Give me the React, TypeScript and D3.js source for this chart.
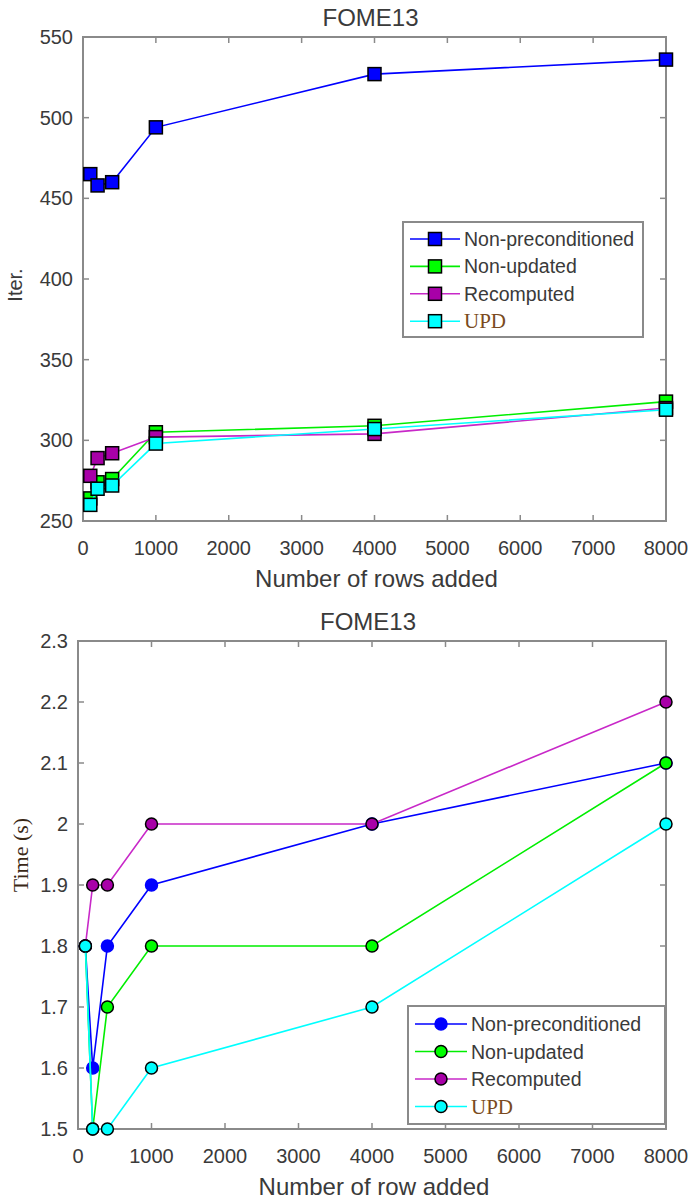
import React from "react";
import * as d3 from "d3";

// Shared x positions (number of rows added)
const rowsAdded = [100, 200, 400, 1000, 4000, 8000];

// Iteration counts
const iterNonPrecond = [465, 458, 460, 494, 527, 536];
const iterNonUpdated = [264, 274, 276, 305, 309, 324];
const iterRecomputed = [278, 289, 292, 302, 304, 320];
const iterUPD = [260, 270, 272, 298, 307, 319];

// Running times (s)
const timeNonPrecond = [1.8, 1.6, 1.8, 1.9, 2.0, 2.1];
const timeNonUpdated = [1.8, 1.5, 1.7, 1.8, 1.8, 2.1];
const timeRecomputed = [1.8, 1.9, 1.9, 2.0, 2.0, 2.2];
const timeUPD = [1.8, 1.5, 1.5, 1.6, 1.7, 2.0];

const seriesNames = ["Non-preconditioned", "Non-updated", "Recomputed", "UPD"];
const xTicks = [0, 1000, 2000, 3000, 4000, 5000, 6000, 7000, 8000];
const iterTicks = [250, 300, 350, 400, 450, 500, 550];
const timeTicks = [1.5, 1.6, 1.7, 1.8, 1.9, 2.0, 2.1, 2.2, 2.3];

const lineColors = ["#0000ff", "#00ee00", "#c828c8", "#00ffff"];
const faceColors = ["#0000ff", "#00ff00", "#a800a8", "#00ffff"];

const SANS = "'Liberation Sans', Arial, sans-serif";
const SERIF = "'Liberation Serif', 'Times New Roman', serif";
const AXIS = "#8a8a8a";
const TXT = "#3a3a3a";

type PanelProps = {
  top: number;
  bottom: number;
  left: number;
  right: number;
  yDomain: [number, number];
  yTicks: number[];
  yFmt: (v: number) => string;
  series: number[][];
  marker: "square" | "circle";
  xLabel: string;
  yLabel: string;
  yLabelSerif: boolean;
  yLabelX: number;
  yLabelY: number;
  legend: { x: number; y: number; w: number; h: number; sampleX0: number; sampleX1: number; textX: number; row0: number; rowGap: number };
};

function Marker({ kind, x, y, i }: { kind: "square" | "circle"; x: number; y: number; i: number }) {
  const edge = kind === "circle" && i === 0 ? faceColors[0] : "#000";
  if (kind === "square") {
    const s = 13;
    return <rect x={x - s / 2} y={y - s / 2} width={s} height={s} fill={faceColors[i]} stroke={edge} strokeWidth={1.5} />;
  }
  return <circle cx={x} cy={y} r={6} fill={faceColors[i]} stroke={edge} strokeWidth={1.5} />;
}

function Panel(p: PanelProps) {
  const x = d3.scaleLinear().domain([0, 8000]).range([p.left, p.right]);
  const y = d3.scaleLinear().domain(p.yDomain).range([p.bottom, p.top]);
  const line = d3
    .line<[number, number]>()
    .x((d) => x(d[0]))
    .y((d) => y(d[1]));
  const tl = 6;
  return (
    <g>
      <text x={(p.left + p.right) / 2 - 4} y={p.top - 11} textAnchor="middle" fontFamily={SANS} fontSize={24} fill={TXT}>
        FOME13
      </text>
      {/* box */}
      <rect x={p.left} y={p.top} width={p.right - p.left} height={p.bottom - p.top} fill="white" stroke={AXIS} strokeWidth={2} />
      {xTicks.map((t) => (
        <g key={"xt" + t}>
          <line x1={x(t)} x2={x(t)} y1={p.bottom} y2={p.bottom - tl} stroke={AXIS} strokeWidth={1.5} />
          <line x1={x(t)} x2={x(t)} y1={p.top} y2={p.top + tl} stroke={AXIS} strokeWidth={1.5} />
          <text x={x(t)} y={p.bottom + 34} textAnchor="middle" fontFamily={SANS} fontSize={20} fill={TXT}>
            {t}
          </text>
        </g>
      ))}
      {p.yTicks.map((t) => (
        <g key={"yt" + t}>
          <line x1={p.left} x2={p.left + tl} y1={y(t)} y2={y(t)} stroke={AXIS} strokeWidth={1.5} />
          <line x1={p.right} x2={p.right - tl} y1={y(t)} y2={y(t)} stroke={AXIS} strokeWidth={1.5} />
          <text x={p.left - 10} y={y(t) + 7} textAnchor="end" fontFamily={SANS} fontSize={20} fill={TXT}>
            {p.yFmt(t)}
          </text>
        </g>
      ))}
      <text x={(p.left + p.right) / 2 + 2} y={p.bottom + 66} textAnchor="middle" fontFamily={SANS} fontSize={24} fill={TXT}>
        {p.xLabel}
      </text>
      <text
        transform={`translate(${p.yLabelX},${p.yLabelY}) rotate(-90)`}
        textAnchor="middle"
        fontFamily={p.yLabelSerif ? SERIF : SANS}
        fontSize={p.yLabelSerif ? 22 : 20}
        fill={p.yLabelSerif ? "#3a2816" : TXT}
      >
        {p.yLabel}
      </text>
      {/* series */}
      {p.series.map((vals, i) => {
        const pts = rowsAdded.map((r, k) => [r, vals[k]] as [number, number]);
        return (
          <g key={"s" + i}>
            <path d={line(pts) || ""} fill="none" stroke={lineColors[i]} strokeWidth={1.6} />
            {pts.map((d, k) => (
              <Marker key={k} kind={p.marker} x={x(d[0])} y={y(d[1])} i={i} />
            ))}
          </g>
        );
      })}
      {/* legend */}
      <rect x={p.legend.x} y={p.legend.y} width={p.legend.w} height={p.legend.h} fill="white" stroke={AXIS} strokeWidth={2} />
      {seriesNames.map((name, i) => {
        const cy = p.legend.row0 + i * p.legend.rowGap;
        const isUPD = name === "UPD";
        return (
          <g key={"l" + i}>
            <line x1={p.legend.sampleX0} x2={p.legend.sampleX1} y1={cy} y2={cy} stroke={lineColors[i]} strokeWidth={1.6} />
            <Marker kind={p.marker} x={(p.legend.sampleX0 + p.legend.sampleX1) / 2} y={cy} i={i} />
            <text
              x={p.legend.textX}
              y={cy + 7}
              fontFamily={isUPD ? SERIF : SANS}
              fontSize={isUPD ? 21 : 19.5}
              fill={isUPD ? "#7a4a20" : TXT}
            >
              {name}
            </text>
          </g>
        );
      })}
    </g>
  );
}

export default function App() {
  return (
    <svg width={689} height={1203} style={{ position: "absolute", left: 0, top: 0, background: "white" }}>
      <rect width={689} height={1203} fill="white" />
      <Panel
        top={37}
        bottom={521}
        left={83}
        right={666}
        yDomain={[250, 550]}
        yTicks={iterTicks}
        yFmt={(v) => String(v)}
        series={[iterNonPrecond, iterNonUpdated, iterRecomputed, iterUPD]}
        marker="square"
        xLabel="Number of rows added"
        yLabel="Iter."
        yLabelSerif={false}
        yLabelX={22}
        yLabelY={285}
        legend={{ x: 403, y: 222, w: 240, h: 115, sampleX0: 410, sampleX1: 460, textX: 464, row0: 239, rowGap: 27.4 }}
      />
      <Panel
        top={641}
        bottom={1129}
        left={78}
        right={666}
        yDomain={[1.5, 2.3]}
        yTicks={timeTicks}
        yFmt={(v) => d3.format("~g")(v)}
        series={[timeNonPrecond, timeNonUpdated, timeRecomputed, timeUPD]}
        marker="circle"
        xLabel="Number of row added"
        yLabel="Time (s)"
        yLabelSerif={true}
        yLabelX={28}
        yLabelY={855}
        legend={{ x: 408, y: 1006, w: 257, h: 118, sampleX0: 415, sampleX1: 467, textX: 471, row0: 1024, rowGap: 27.5 }}
      />
    </svg>
  );
}
